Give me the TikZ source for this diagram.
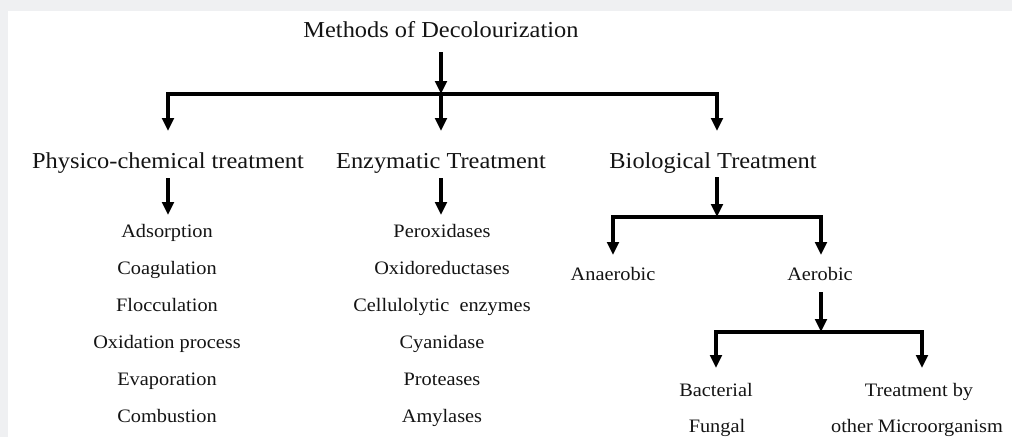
\documentclass[tikz,border=0pt]{standalone}
\usepackage{fontspec}
\setmainfont{Liberation Serif}[FakeStretch=1.07]
\usetikzlibrary{arrows.meta}
\definecolor{pagegray}{RGB}{239,240,242}
\definecolor{ink}{RGB}{20,20,20}
\tikzset{
  big/.style={anchor=base, inner sep=0pt, text=ink, font=\fontsize{22.8}{27}\selectfont},
  small/.style={anchor=base, inner sep=0pt, text=ink, font=\fontsize{19}{23}\selectfont},
  arr/.style={draw=black, line width=3.2pt, -{Triangle[width=11.5pt,length=13pt]}},
  bar/.style={draw=black, line width=3.2pt, line cap=rect}
}
\begin{document}
\begin{tikzpicture}[x=1pt,y=-1pt]
\fill[pagegray] (0,0) rectangle (1012,437);
\fill[white] (8,11) rectangle (1012,437);
\useasboundingbox (0,0) rectangle (1012,437);

% level 1
\node[big] (t) at (441,37) {Methods of Decolourization};
\coordinate (j0) at (441,94);
\coordinate (jl) at (168,94);
\coordinate (jr) at (717,94);

% level 2
\node[big] (p) at (168,168) {Physico-chemical treatment};
\node[big] (e) at (441,168) {Enzymatic Treatment};
\node[big] (b) at (713,168) {Biological Treatment};

% physico-chemical list
\node[small] (a1) at (167,237) {Adsorption};
\node[small] (a2) at (167,274) {Coagulation};
\node[small] (a3) at (167,311) {Flocculation};
\node[small] (a4) at (167,348) {Oxidation process};
\node[small] (a5) at (167,385) {Evaporation};
\node[small] (a6) at (167,422) {Combustion};

% enzymatic list
\node[small] (e1) at (442,237) {Peroxidases};
\node[small] (e2) at (442,274) {Oxidoreductases};
\node[small] (e3) at (442,311) {Cellulolytic \ enzymes};
\node[small] (e4) at (442,348) {Cyanidase};
\node[small] (e5) at (442,385) {Proteases};
\node[small] (e6) at (442,422) {Amylases};

% biological
\coordinate (k0) at (717,217);
\coordinate (kl) at (613,217);
\coordinate (kr) at (821,217);
\node[small] (an) at (613,280) {Anaerobic};
\node[small] (ae) at (820,280) {Aerobic};
\coordinate (m0) at (821,332);
\coordinate (ml) at (716,332);
\coordinate (mr) at (922,332);
\node[small] (ba) at (716,396) {Bacterial};
\node[small] (fu) at (717,432) {Fungal};
\node[small] (tb) at (919,396) {Treatment by};
\node[small] (om) at (917,432) {other Microorganism};

% connectors level 1
\draw[arr] ([yshift=-15pt]j0 |- t.base) -- (j0);
\draw[bar] (jl) -- (jr);
\draw[arr] (jl) -- ([yshift=37pt]jl |- p.base);
\draw[arr] (j0) -- ([yshift=37pt]j0 |- e.base);
\draw[arr] (jr) -- ([yshift=37pt]jr |- b.base);

% connectors level 2
\draw[arr] ([yshift=-10pt]p.base) -- ([yshift=22pt]p.base |- a1.base);
\draw[arr] ([yshift=-10pt]e.base) -- ([yshift=22pt]e.base |- e1.base);
\draw[arr] ([yshift=-9pt]k0 |- b.base) -- (k0);
\draw[bar] (kl) -- (kr);
\draw[arr] (kl) -- ([yshift=25pt]kl |- an.base);
\draw[arr] (kr) -- ([yshift=25pt]kr |- ae.base);

% connectors level 3
\draw[arr] ([yshift=-12pt]m0 |- ae.base) -- (m0);
\draw[bar] (ml) -- (mr);
\draw[arr] (ml) -- ([yshift=28pt]ml |- ba.base);
\draw[arr] (mr) -- ([yshift=28pt]mr |- tb.base);
\end{tikzpicture}
\end{document}
